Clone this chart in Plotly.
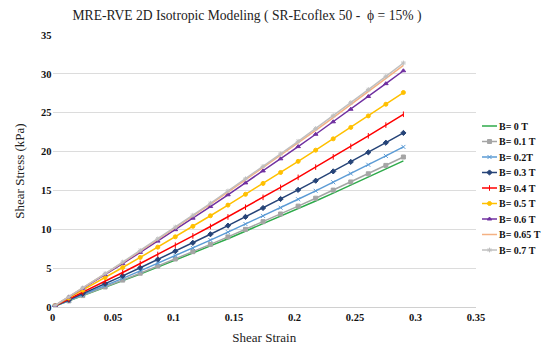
import plotly.graph_objects as go

strain = [0.002, 0.0135, 0.025, 0.0435, 0.058, 0.0725, 0.087, 0.1015, 0.116, 0.1305,
          0.145, 0.1595, 0.174, 0.1885, 0.203, 0.2175, 0.232, 0.2465, 0.261, 0.2755, 0.29]

b0 = [0.11, 0.77, 1.43, 2.51, 3.37, 4.24, 5.13, 6.02, 6.93, 7.86, 8.79, 9.74, 10.69, 11.66,
      12.65, 13.64, 14.65, 15.67, 16.70, 17.74, 18.80]
b01 = [0.12, 0.79, 1.47, 2.58, 3.46, 4.35, 5.26, 6.18, 7.12, 8.06, 9.02, 9.99, 10.98, 11.97,
       12.98, 14.00, 15.04, 16.09, 17.14, 18.22, 19.30]
b02 = [0.12, 0.84, 1.56, 2.75, 3.69, 4.65, 5.62, 6.60, 7.60, 8.61, 9.63, 10.67, 11.72, 12.78,
       13.86, 14.95, 16.05, 17.17, 18.30, 19.44, 20.60]
b03 = [0.13, 0.91, 1.70, 2.99, 4.01, 5.05, 6.11, 7.18, 8.26, 9.36, 10.47, 11.60, 12.74, 13.90,
       15.07, 16.25, 17.45, 18.67, 19.90, 21.14, 22.40]
b04 = [0.15, 1.01, 1.88, 3.31, 4.44, 5.60, 6.76, 7.95, 9.15, 10.36, 11.59, 12.84, 14.11, 15.39,
       16.68, 18.00, 19.32, 20.67, 22.03, 23.41, 24.80]
b05 = [0.17, 1.16, 2.16, 3.79, 5.08, 6.38, 7.70, 9.03, 10.38, 11.74, 13.11, 14.50, 15.90, 17.31,
       18.74, 20.18, 21.64, 23.11, 24.59, 26.09, 27.60]
b06 = [0.19, 1.28, 2.38, 4.17, 5.59, 7.03, 8.48, 9.95, 11.43, 12.93, 14.44, 15.97, 17.51, 19.07,
       20.64, 22.23, 23.83, 25.45, 27.09, 28.74, 30.40]
b065 = [0.19, 1.31, 2.44, 4.27, 5.72, 7.19, 8.68, 10.18, 11.69, 13.23, 14.77, 16.34, 17.91, 19.51,
        21.12, 22.74, 24.38, 26.04, 27.71, 29.40, 31.10]
b07 = [0.20, 1.32, 2.46, 4.31, 5.78, 7.26, 8.76, 10.28, 11.81, 13.35, 14.92, 16.49, 18.09, 19.70,
       21.32, 22.96, 24.62, 26.29, 27.98, 29.68, 31.40]

names = ["B= 0 T", "B= 0.1 T", "B= 0.2T", "B= 0.3 T", "B= 0.4 T", "B= 0.5 T", "B= 0.6 T",
         "B= 0.65 T", "B= 0.7 T"]
series = [b0, b01, b02, b03, b04, b05, b06, b065, b07]
colors = ["#2EAA4A", "#A5A5A5", "#5B9BD5", "#264478", "#FF0000", "#FFC000", "#7030A0",
          "#F4B183", "#BFBFBF"]
symbols = [None, "square", "x-thin-open", "diamond", "line-ns-open", "circle", "triangle-up",
           None, "asterisk-open"]

# figure size (page body adds an 8px offset inside the 550x352 window)
W, H = 542, 344
serif = "Liberation Serif"

fig = go.Figure()
for name, vals, col, sym in zip(names, series, colors, symbols):
    mode = "lines" if sym is None else "lines+markers"
    fig.add_trace(go.Scatter(x=strain, y=vals, name=name, mode=mode, showlegend=False,
                             line=dict(color=col, width=1.5),
                             marker=dict(symbol=sym or "circle", size=4, color=col,
                                         line=dict(color=col, width=1))))

# Custom compact legend drawn on a pixel-space overlay axis
leg_top, leg_step = 118, 15.5
leg_x0, leg_x1, txt_x = 474, 489, 490
annotations = []
for i, (name, col, sym) in enumerate(zip(names, colors, symbols)):
    yy = leg_top + i * leg_step
    fig.add_trace(go.Scatter(x=[leg_x0, leg_x1], y=[yy, yy], mode="lines", showlegend=False,
                             xaxis="x2", yaxis="y2", hoverinfo="skip",
                             line=dict(color=col, width=1.5)))
    if sym is not None:
        fig.add_trace(go.Scatter(x=[(leg_x0 + leg_x1) / 2], y=[yy], mode="markers",
                                 showlegend=False, xaxis="x2", yaxis="y2", hoverinfo="skip",
                                 marker=dict(symbol=sym, size=4, color=col,
                                             line=dict(color=col, width=1))))
    annotations.append(dict(x=txt_x, y=yy, xref="x2", yref="y2", text=name, showarrow=False,
                            xanchor="left", yanchor="middle", borderpad=0,
                            font=dict(family=serif, size=10, color="#111", weight="bold")))

fig.update_layout(
    width=W, height=H,
    margin=dict(l=0, r=0, t=0, b=0, pad=0, autoexpand=False),
    paper_bgcolor="white", plot_bgcolor="rgba(0,0,0,0)",
    showlegend=False,
    title=dict(text="MRE-RVE 2D Isotropic Modeling ( SR-Ecoflex 50 -  ϕ = 15% )",
               font=dict(family=serif, size=13.6, color="#222"),
               x=0.441, xanchor="center", y=0.979, yanchor="middle"),
    annotations=annotations,
    font=dict(family=serif),
    xaxis=dict(domain=[44.5 / W, 468 / W], anchor="y",
               range=[0, 0.35], dtick=0.05, tick0=0, showgrid=False,
               showline=True, linecolor="#D0D0D0", linewidth=1,
               ticks="", zeroline=False,
               tickfont=dict(family=serif, size=10.5, color="#111", weight="bold"),
               tickformat="~g",
               title=dict(text="Shear Strain", font=dict(family=serif, size=13, color="#222"),
                          standoff=11)),
    yaxis=dict(domain=[(H - 299) / H, (H - 27) / H], anchor="x",
               range=[0, 35], dtick=5, showgrid=True, gridcolor="#DCDCDC", gridwidth=1,
               zeroline=False, showline=False, ticks="",
               tickfont=dict(family=serif, size=10.5, color="#111", weight="bold"),
               title=dict(text="Shear Stress (kPa)", font=dict(family=serif, size=13, color="#222"),
                          standoff=13)),
    xaxis2=dict(domain=[0, 1], range=[0, W], visible=False, anchor="y2", fixedrange=True),
    yaxis2=dict(domain=[0, 1], range=[H, 0], visible=False, anchor="x2", fixedrange=True),
)

fig.write_html("out.html")
